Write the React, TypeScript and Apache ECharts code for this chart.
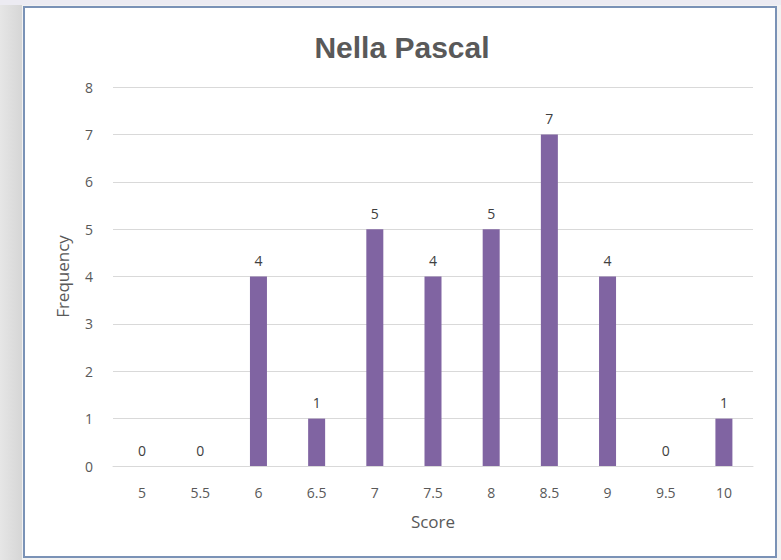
import React, { useEffect, useRef } from "react";
import * as echarts from "echarts";

const categories = ["5", "5.5", "6", "6.5", "7", "7.5", "8", "8.5", "9", "9.5", "10"];
const frequencies = [0, 0, 4, 1, 5, 4, 5, 7, 4, 0, 1];
const titleText = "Nella Pascal";
const xName = "Score";
const yName = "Frequency";

export default function App() {
  const ref = useRef<HTMLDivElement>(null);
  useEffect(() => {
    if (!ref.current) return;
    const chart = echarts.init(ref.current, null, { renderer: "svg" });
    const font = "'Open Sans', 'Noto Sans', sans-serif";
    chart.setOption({
      animation: false,
      backgroundColor: "#f2f2f2",
      graphic: [
        {
          type: "rect",
          shape: { x: 0, y: 0, width: 22, height: 560 },
          style: {
            fill: new echarts.graphic.LinearGradient(0, 0, 1, 0, [
              { offset: 0, color: "#e6e6e6" },
              { offset: 1, color: "#d6d6d6" },
            ]),
          },
          silent: true,
          z: -10,
        },
        { type: "rect", shape: { x: 0, y: 0, width: 781, height: 5 }, style: { fill: "#ecebf2" }, silent: true, z: -10 },
        {
          type: "rect",
          shape: { x: 24, y: 7, width: 752, height: 550 },
          style: { fill: "#ffffff", stroke: "#7a92b6", lineWidth: 2 },
          silent: true,
          z: -9,
        },
      ],
      title: {
        text: titleText,
        left: 397,
        textAlign: "center",
        top: 27,
        textStyle: { fontFamily: "'Liberation Sans', Arial, sans-serif", fontWeight: "bold", fontSize: 30, color: "#595959" },
      },
      grid: { left: 113, right: 28, top: 87, bottom: 94 },
      xAxis: {
        type: "category",
        data: categories,
        name: xName,
        nameLocation: "middle",
        nameGap: 47,
        nameTextStyle: { fontFamily: font, fontSize: 17, color: "#595959" },
        axisLine: { lineStyle: { color: "#d9d9d9", width: 1 } },
        axisTick: { show: false },
        axisLabel: { fontFamily: font, fontSize: 14, color: "#595959", margin: 19 },
      },
      yAxis: {
        type: "value",
        min: 0,
        max: 8,
        interval: 1,
        name: yName,
        nameLocation: "middle",
        nameGap: 42,
        nameRotate: 90,
        nameTextStyle: { fontFamily: font, fontSize: 17, color: "#595959" },
        axisLine: { show: false },
        axisTick: { show: false },
        axisLabel: { fontFamily: font, fontSize: 14, color: "#595959", margin: 20 },
        splitLine: { lineStyle: { color: "#d9d9d9", width: 1 } },
      },
      series: [
        {
          type: "bar",
          data: frequencies,
          barWidth: 17,
          itemStyle: { color: "#8064a2" },
          label: {
            show: true,
            position: "top",
            distance: 9,
            fontFamily: font,
            fontSize: 14,
            color: "#404040",
          },
        },
      ],
    });
    return () => chart.dispose();
  }, []);
  return (
    <div
      ref={ref}
      style={{ position: "fixed", left: 0, top: 0, width: 781, height: 560 }}
    />
  );
}
